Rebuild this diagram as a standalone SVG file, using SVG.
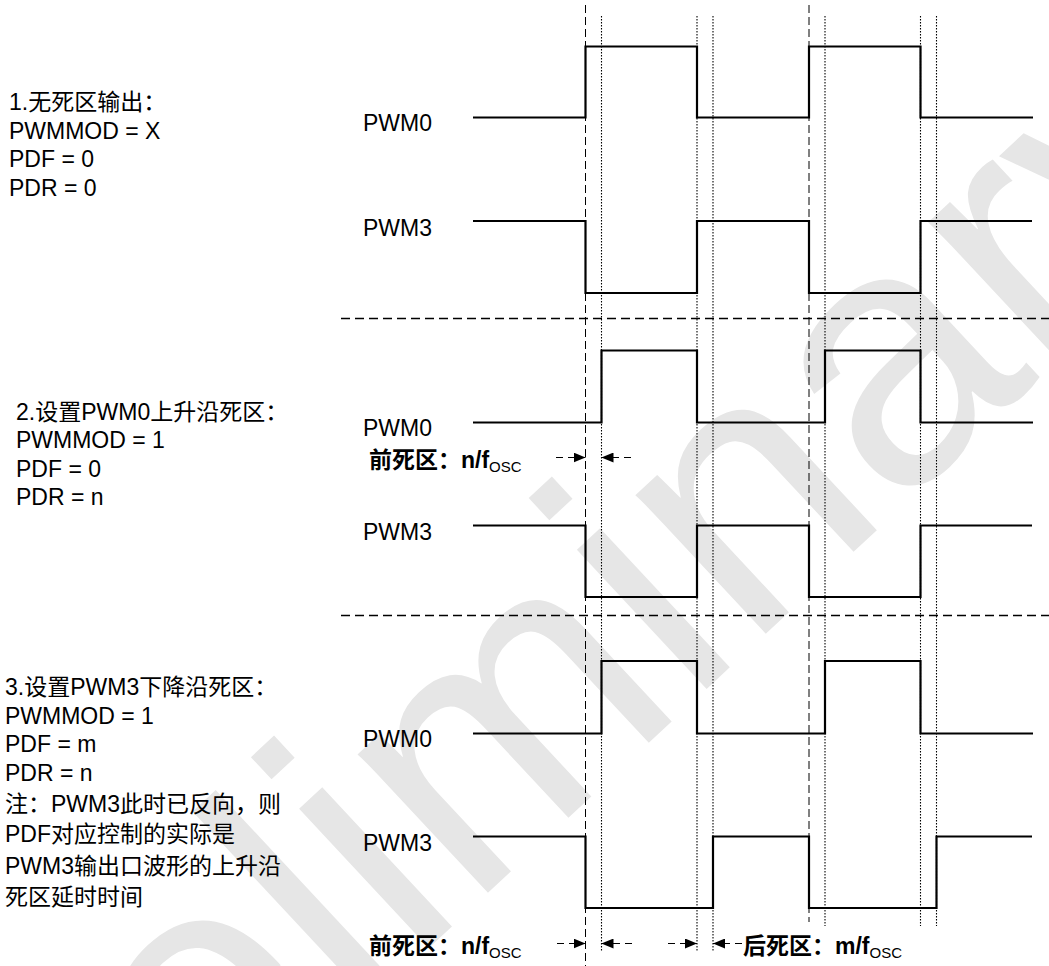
<svg xmlns="http://www.w3.org/2000/svg" width="1049" height="966" viewBox="0 0 1049 966">
<style>
.t{font-family:"Liberation Sans","Noto Sans CJK SC",sans-serif;font-size:23px;fill:#000}
.b{font-weight:bold}
.sub{font-size:15px;font-weight:normal}
.wm{font-family:"Liberation Sans","Noto Sans",sans-serif;font-size:360px;fill:#e6e6e6}
.w{fill:none;stroke:#000;stroke-width:2.2;stroke-linejoin:miter}
.dash{stroke:#000;stroke-width:1;stroke-dasharray:8 4;fill:none}
.dot{stroke:#000;stroke-width:1.1;stroke-dasharray:1.5 1.5;fill:none}
.sep{stroke:#000;stroke-width:1.3;stroke-dasharray:9 5;fill:none}
.arr{stroke:#000;stroke-width:1;stroke-dasharray:7 5;fill:none;marker-end:url(#ah)}
</style>
<defs>
<marker id="ah" viewBox="0 0 12 10" refX="12" refY="5" markerWidth="12" markerHeight="10" orient="auto" markerUnits="userSpaceOnUse">
<path d="M0,0 L12,5 L0,10 z" fill="#000"/>
</marker>
</defs>
<rect width="1049" height="966" fill="#fff"/>
<g id="watermark">
<text class="wm" x="-57" y="1401" transform="rotate(-43 -57 1401)">Preliminary</text>
</g>

<g id="connectors">
<line class="sep" x1="341" y1="318.5" x2="1049" y2="318.5"/>
<line class="sep" x1="341" y1="615.5" x2="1049" y2="615.5"/>
<line class="dash" x1="585.5" y1="5" x2="585.5" y2="966"/>
<line class="dot" x1="601.5" y1="16" x2="601.5" y2="952"/>
<line class="dot" x1="697" y1="16" x2="697" y2="952"/>
<line class="dot" x1="713" y1="16" x2="713" y2="952"/>
<line class="dash" x1="809" y1="5" x2="809" y2="922"/>
<line class="dot" x1="825" y1="16" x2="825" y2="926"/>
<line class="dot" x1="920.5" y1="16" x2="920.5" y2="926"/>
<line class="dot" x1="936.5" y1="16" x2="936.5" y2="926"/>
<line class="arr" x1="556" y1="457.5" x2="585.5" y2="457.5"/>
<line class="arr" x1="631" y1="457.5" x2="601.5" y2="457.5"/>
<line class="arr" x1="557" y1="943.5" x2="585.5" y2="943.5"/>
<line class="arr" x1="632" y1="943.5" x2="601.5" y2="943.5"/>
<line class="arr" x1="668" y1="943.5" x2="697" y2="943.5"/>
<line class="arr" x1="742" y1="943.5" x2="713" y2="943.5"/>
</g>

<g id="sec1-text">
<text class="t" x="9" y="110">1.无死区输出：</text>
<text class="t" x="9" y="138.5">PWMMOD = X</text>
<text class="t" x="9" y="167">PDF = 0</text>
<text class="t" x="9" y="196">PDR = 0</text>
</g>
<g id="sec1-pwm0">
<text class="t" x="363" y="131">PWM0</text>
<path class="w" d="M473,117.5 H585.5 V46.5 H697 V117.5 H809 V46.5 H920.5 V117.5 H1033"/>
</g>
<g id="sec1-pwm3">
<text class="t" x="363" y="236">PWM3</text>
<path class="w" d="M473,221 H585.5 V293 H697 V221 H809 V293 H920.5 V221 H1032"/>
</g>

<g id="sec2-text">
<text class="t" x="16" y="419.5">2.设置PWM0上升沿死区：</text>
<text class="t" x="16" y="448">PWMMOD = 1</text>
<text class="t" x="16" y="476.5">PDF = 0</text>
<text class="t" x="16" y="505">PDR = n</text>
</g>
<g id="sec2-pwm0">
<text class="t" x="363" y="436">PWM0</text>
<path class="w" d="M473,422.5 H601.5 V350.5 H697 V422.5 H825 V350.5 H920.5 V422.5 H1033"/>
</g>
<g id="sec2-deadzone">
<text class="t b" x="369" y="468">前死区：n/f<tspan class="sub" dy="4">OSC</tspan></text>
</g>
<g id="sec2-pwm3">
<text class="t" x="363" y="540">PWM3</text>
<path class="w" d="M473,525.5 H585.5 V597 H697 V525.5 H809 V597 H920.5 V525.5 H1032"/>
</g>

<g id="sec3-text">
<text class="t" x="5" y="695">3.设置PWM3下降沿死区：</text>
<text class="t" x="5" y="723.5">PWMMOD = 1</text>
<text class="t" x="5" y="752">PDF = m</text>
<text class="t" x="5" y="780.5">PDR = n</text>
<text class="t" x="5" y="812">注：PWM3此时已反向，则</text>
<text class="t" x="5" y="842">PDF对应控制的实际是</text>
<text class="t" x="5" y="874">PWM3输出口波形的上升沿</text>
<text class="t" x="5" y="905">死区延时时间</text>
</g>
<g id="sec3-pwm0">
<text class="t" x="363" y="747">PWM0</text>
<path class="w" d="M473,733.5 H601.5 V661 H697 V733.5 H825 V661 H920.5 V733.5 H1033"/>
</g>
<g id="sec3-pwm3">
<text class="t" x="363" y="851">PWM3</text>
<path class="w" d="M473,836.5 H585.5 V908 H713 V836.5 H809 V908 H936.5 V836.5 H1032"/>
</g>
<g id="sec3-deadzone">
<text class="t b" x="369" y="954">前死区：n/f<tspan class="sub" dy="4">OSC</tspan></text>
<text class="t b" x="743" y="954">后死区：m/f<tspan class="sub" dy="4">OSC</tspan></text>
</g>
</svg>
